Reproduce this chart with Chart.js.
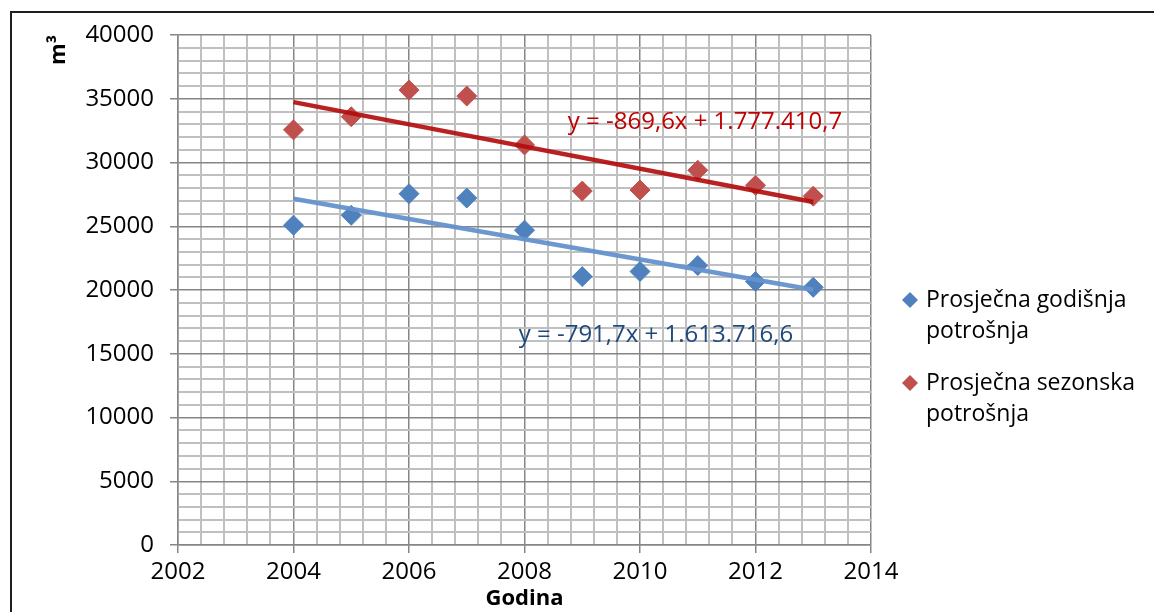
<!DOCTYPE html>
<html>
<head>
<meta charset="utf-8">
<script src="https://cdn.jsdelivr.net/npm/chart.js@4"></script>
<style>
    html, body { margin: 0; padding: 0; background: #fff; }
    #wrap { width: 1154px; height: 612px; position: relative; }
</style>
</head>
<body>
<div id="wrap"><canvas id="potrosnja_chart"></canvas></div>
<script>
// Podaci
const godine = [2004, 2005, 2006, 2007, 2008, 2009, 2010, 2011, 2012, 2013];
const godisnja = [25080, 25860, 27550, 27210, 24690, 21050, 21450, 21920, 20660, 20210];
const sezonska = [32560, 33590, 35680, 35210, 31380, 27760, 27840, 29390, 28210, 27360];

const nazivi = ["Prosječna godišnja potrošnja", "Prosječna sezonska potrošnja"];
const legendaRedovi = [["Prosječna godišnja", "potrošnja"], ["Prosječna sezonska", "potrošnja"]];

// Trend (iz jednadžbi na slici)
const trendGodisnja = { k: -791.7, l: 1613716.6, tekst: "y = -791,7x + 1.613.716,6", pos: [2007.9, 16470] };
const trendSezonska = { k: -869.6, l: 1777410.7, tekst: "y = -869,6x + 1.777.410,7", pos: [2008.75, 33180] };

const xMin = 2002, xMax = 2014, xMaj = 2, xMin_step = 0.4;
const yMin = 0, yMax = 40000, yMaj = 5000, yMin_step = 1000;

const FONT = "'Open Sans', 'Liberation Sans', sans-serif";
const LEFT = 46;

function isMajor(v, step) {
    return Math.abs(v / step - Math.round(v / step)) < 1e-6;
}

function trendPoints(t) {
    let a = godine[0], b = godine[godine.length - 1];
    return [{ x: a, y: t.k * a + t.l }, { x: b, y: t.k * b + t.l }];
}

const extras = {
    id: 'extras',
    beforeDraw(chart) {
        const ctx = chart.ctx;
        ctx.save();
        ctx.strokeStyle = '#1f1f1f';
        ctx.lineWidth = 2;
        ctx.beginPath();
        ctx.moveTo(chart.width, 12);
        ctx.lineTo(11, 12);
        ctx.lineTo(11, chart.height);
        ctx.stroke();
        ctx.restore();
    },
    afterDraw(chart) {
        const ctx = chart.ctx;
        const xs = chart.scales.x, ys = chart.scales.y;
        ctx.save();
        ctx.font = "24px " + FONT;
        ctx.textBaseline = 'middle';
        ctx.textAlign = 'left';
        [[trendSezonska, '#C00000'], [trendGodisnja, '#1F497D']].forEach(([t, c]) => {
            ctx.fillStyle = c;
            ctx.fillText(t.tekst, xs.getPixelForValue(t.pos[0]), ys.getPixelForValue(t.pos[1]));
        });
        // legenda
        const boje = ['#4F81BD', '#C0504D'];
        const lx = chart.chartArea.right + 39;
        const tops = [300, 383];
        ctx.font = "23px " + FONT;
        legendaRedovi.forEach((redovi, i) => {
            ctx.fillStyle = boje[i];
            ctx.beginPath();
            ctx.moveTo(lx, tops[i] - 8);
            ctx.lineTo(lx + 8, tops[i]);
            ctx.lineTo(lx, tops[i] + 8);
            ctx.lineTo(lx - 8, tops[i]);
            ctx.closePath();
            ctx.fill();
            ctx.fillStyle = '#000';
            redovi.forEach((r, j) => ctx.fillText(r, lx + 16, tops[i] + j * 31));
        });
        ctx.restore();
    }
};

new Chart(document.getElementById('potrosnja_chart'), {
    type: 'scatter',
    data: {
        datasets: [
            {
                label: 'trend sezonska',
                type: 'line',
                data: trendPoints(trendSezonska),
                borderColor: 'rgba(178,10,10,0.9)',
                borderWidth: 4.5,
                pointRadius: 0,
                order: 0
            },
            {
                label: 'trend godisnja',
                type: 'line',
                data: trendPoints(trendGodisnja),
                borderColor: 'rgba(100,146,204,0.95)',
                borderWidth: 4.5,
                pointRadius: 0,
                order: 0
            },
            {
                label: nazivi[0],
                data: godine.map((g, i) => ({ x: g, y: godisnja[i] })),
                pointStyle: 'rectRot',
                pointRadius: 10,
                backgroundColor: '#4F81BD',
                borderColor: '#4F81BD',
                order: 1
            },
            {
                label: nazivi[1],
                data: godine.map((g, i) => ({ x: g, y: sezonska[i] })),
                pointStyle: 'rectRot',
                pointRadius: 10,
                backgroundColor: '#C0504D',
                borderColor: '#C0504D',
                order: 1
            }
        ]
    },
    options: {
        responsive: true,
        maintainAspectRatio: false,
        animation: false,
        layout: { padding: { left: LEFT, top: 35, right: 283, bottom: 0 } },
        plugins: {
            legend: { display: false },
            tooltip: { enabled: false }
        },
        scales: {
            x: {
                type: 'linear',
                min: xMin,
                max: xMax,
                afterFit: (s) => { s.height = 67; },
                ticks: {
                    stepSize: xMin_step,
                    autoSkip: false,
                    maxRotation: 0,
                    padding: 5,
                    color: '#000',
                    font: { family: FONT, size: 24 },
                    callback: (v) => isMajor(v - xMin, xMaj) ? String(Math.round(v)) : ''
                },
                grid: {
                    color: (c) => isMajor(c.tick.value - xMin, xMaj) ? '#868686' : '#C0C0C0',
                    lineWidth: (c) => isMajor(c.tick.value - xMin, xMaj) ? 1.5 : 2,
                    tickColor: (c) => isMajor(c.tick.value - xMin, xMaj) ? '#868686' : 'rgba(0,0,0,0)',
                    tickLength: 8
                },
                border: { color: '#868686', width: 1.5 },
                title: {
                    display: true,
                    text: 'Godina',
                    color: '#000',
                    font: { family: FONT, size: 22, weight: 'bold' },
                    padding: { top: -10, bottom: 0 }
                }
            },
            y: {
                min: yMin,
                max: yMax,
                afterFit: (s) => { s.width = 178 - LEFT; },
                ticks: {
                    stepSize: yMin_step,
                    autoSkip: false,
                    padding: 16,
                    color: '#000',
                    font: { family: FONT, size: 24 },
                    callback: (v) => isMajor(v, yMaj) ? String(v) : ''
                },
                grid: {
                    color: (c) => isMajor(c.tick.value, yMaj) ? '#868686' : '#C0C0C0',
                    lineWidth: (c) => isMajor(c.tick.value, yMaj) ? 1.5 : 2,
                    tickColor: (c) => isMajor(c.tick.value, yMaj) ? '#868686' : 'rgba(0,0,0,0)',
                    tickLength: 8
                },
                border: { color: '#868686', width: 1.5 },
                title: {
                    display: true,
                    text: 'm³',
                    align: 'end',
                    color: '#000',
                    font: { family: FONT, size: 22, weight: 'bold' },
                    padding: { top: 0, bottom: 0 }
                }
            }
        }
    },
    plugins: [extras]
});
</script>
</body>
</html>
